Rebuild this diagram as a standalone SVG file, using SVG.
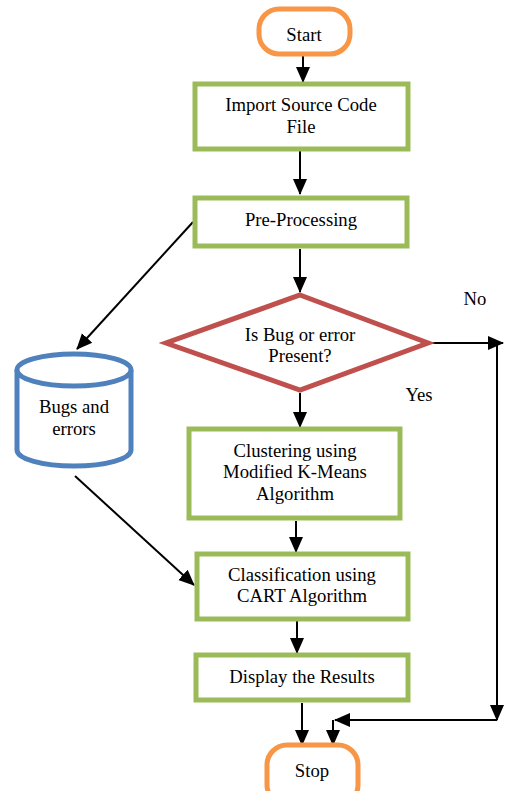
<svg xmlns="http://www.w3.org/2000/svg" width="505" height="791" viewBox="0 0 505 791">
<style>
.t{font-family:"Liberation Serif","DejaVu Serif","Times New Roman",Times,serif;font-size:18.7px;fill:#000;text-anchor:middle}
.g{fill:#fff;stroke:#9BBB59;stroke-width:5}
.o{fill:#fff;stroke:#F79646;stroke-width:5}
.c{fill:none;stroke:#000;stroke-width:2;marker-end:url(#ah)}
</style>
<defs>
<marker id="ah" markerUnits="userSpaceOnUse" markerWidth="16" markerHeight="16" viewBox="0 0 16 16" refX="15" refY="8" orient="auto">
<path d="M0,1 L16,8 L0,15 Z" fill="#000"/>
</marker>
</defs>
<rect width="505" height="791" fill="#fff"/>
<g id="connectors">
<path class="c" d="M303,56 V82"/>
<path class="c" d="M300,151 V194"/>
<path class="c" d="M300,249 V292"/>
<path class="c" d="M193,222 L77,349"/>
<path class="c" d="M430,343 H503"/>
<path class="c" d="M497,343 V720"/>
<path class="c" d="M497,720 H335"/>
<path class="c" d="M333,720 V745"/>
<path class="c" d="M300,393 V427"/>
<path class="c" d="M75,476 L194,585"/>
<path class="c" d="M296,521 V552"/>
<path class="c" d="M297,621 V653"/>
<path class="c" d="M302,703 V745"/>
</g>
<g id="start">
<rect class="o" x="259" y="9" width="91" height="45" rx="20"/>
<text class="t" x="304" y="41">Start</text>
</g>
<g id="import">
<rect class="g" x="195" y="84" width="213" height="65"/>
<text class="t" x="301" y="111">Import Source Code</text>
<text class="t" x="301" y="133">File</text>
</g>
<g id="preprocessing">
<rect class="g" x="195" y="198" width="212" height="48"/>
<text class="t" x="301" y="226">Pre-Processing</text>
</g>
<g id="decision">
<polygon points="300,295 428,343 300,390 166,343" fill="#fff" stroke="#C0504D" stroke-width="5"/>
<text class="t" x="300" y="341">Is Bug or error</text>
<text class="t" x="300" y="362">Present?</text>
</g>
<text class="t" x="475" y="305">No</text>
<text class="t" x="419" y="401">Yes</text>
<g id="bugs">
<path d="M17,370 V450 A57,16 0 0 0 131,450 V370" fill="#fff" stroke="#4F81BD" stroke-width="5"/>
<ellipse cx="74" cy="370" rx="57" ry="16" fill="#fff" stroke="#4F81BD" stroke-width="5"/>
<text class="t" x="74" y="413">Bugs and</text>
<text class="t" x="74" y="435">errors</text>
</g>
<g id="clustering">
<rect class="g" x="189" y="429" width="211" height="89"/>
<text class="t" x="295" y="457">Clustering using</text>
<text class="t" x="295" y="478">Modified K-Means</text>
<text class="t" x="295" y="500">Algorithm</text>
</g>
<g id="classification">
<rect class="g" x="197" y="554" width="211" height="65"/>
<text class="t" x="302" y="581">Classification using</text>
<text class="t" x="302" y="602">CART Algorithm</text>
</g>
<g id="display">
<rect class="g" x="196" y="655" width="212" height="45"/>
<text class="t" x="302" y="683">Display the Results</text>
</g>
<g id="stop">
<rect class="o" x="267" y="745" width="91" height="60" rx="20"/>
<text class="t" x="312" y="777">Stop</text>
</g>
</svg>
